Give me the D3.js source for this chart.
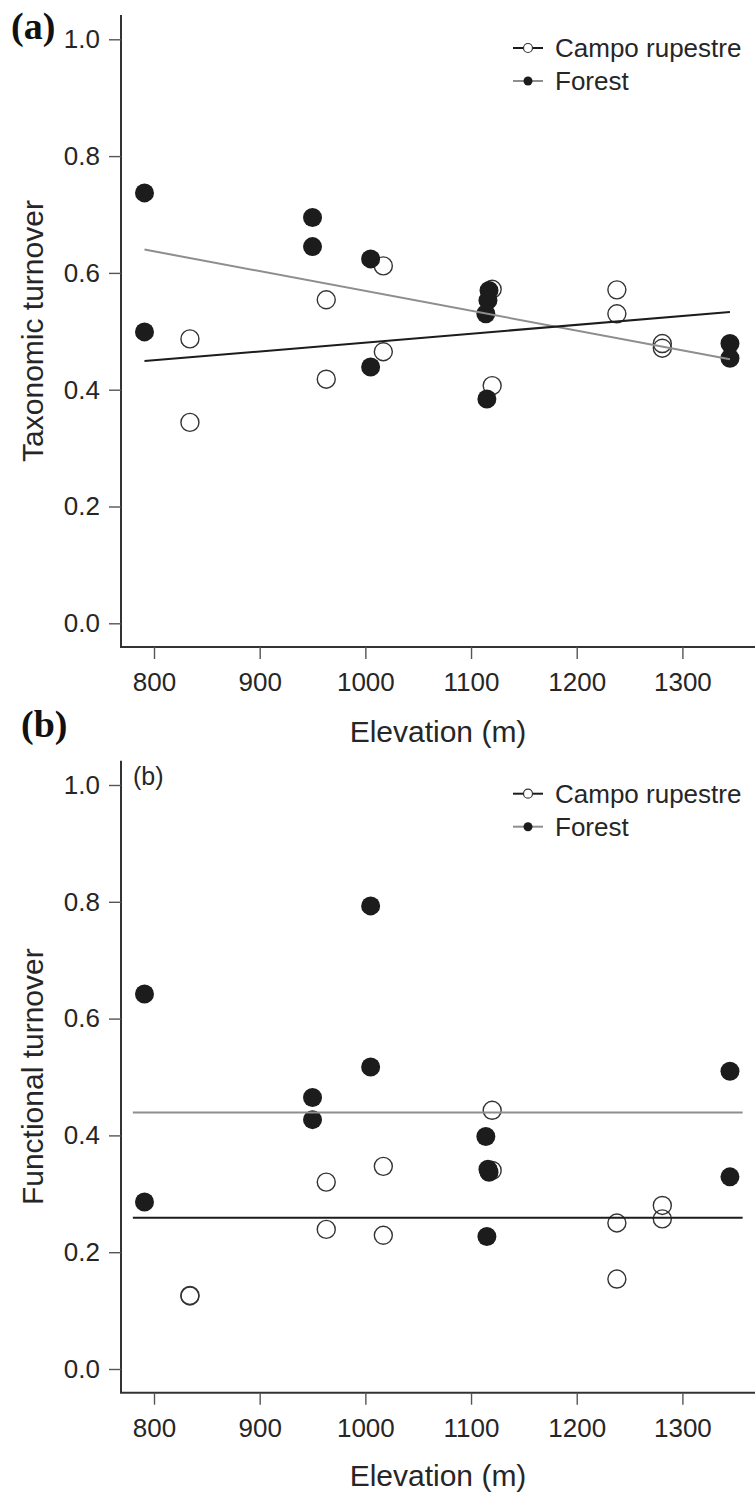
<!DOCTYPE html>
<html>
<head>
<meta charset="utf-8">
<script src="https://cdn.jsdelivr.net/npm/d3@7"></script>
<style>
  body { margin: 0; background: #fff; }
</style>
</head>
<body>
<div id="chart"></div>
<script>
var width = 755,
    height = 1492;

// data
var xTicks = [800, 900, 1000, 1100, 1200, 1300];
var yTicks = [0, 0.2, 0.4, 0.6, 0.8, 1.0];
var seriesNames = ["Campo rupestre", "Forest"];

var campoElev = [834, 834, 963, 963, 1017, 1017, 1120, 1120, 1238, 1238, 1281, 1281];
var campoTax  = [0.487, 0.344, 0.554, 0.418, 0.612, 0.465, 0.572, 0.407, 0.571, 0.530, 0.479, 0.471];
var campoFun  = [0.125, 0.126, 0.320, 0.239, 0.347, 0.229, 0.443, 0.340, 0.250, 0.154, 0.280, 0.257];

var forestElev = [791, 791, 950, 950, 1005, 1005, 1117, 1116, 1114, 1115, 1345, 1345];
var forestTax  = [0.737, 0.499, 0.695, 0.645, 0.624, 0.439, 0.570, 0.553, 0.530, 0.384, 0.479, 0.454];
var forestFun  = [0.642, 0.286, 0.465, 0.427, 0.793, 0.517, 0.337, 0.342, 0.398, 0.227, 0.510, 0.329];

// fitted lines [x0, y0, x1, y1]
var campoTaxFit  = [791, 0.449, 1345, 0.533];
var forestTaxFit = [791, 0.640, 1345, 0.452];
var campoFunFit  = [780, 0.259, 1357, 0.259];
var forestFunFit = [780, 0.439, 1357, 0.439];

var sans = "'Liberation Sans', Arial, Helvetica, sans-serif";
var serif = "'Liberation Serif', 'Times New Roman', serif";

var svg = d3.select('#chart').append('svg')
    .attr('width', width)
    .attr('height', height)
    .style('font-family', sans);

var x = d3.scaleLinear().domain([800, 1300]).range([154, 682.4]);

function panel(offset, yTitle, campoY, forestY, campoFit, forestFit, inner, titleY) {
    var g = svg.append('g').attr("transform", "translate(0," + offset + ")");
    var y = d3.scaleLinear().domain([0, 1]).range([623.3, 39.3]);

    // axis lines
    g.append("line").attr("x1", 121).attr("x2", 121).attr("y1", 15).attr("y2", 647)
        .attr("stroke", "#333").attr("stroke-width", 2);
    g.append("line").attr("x1", 120).attr("x2", 755).attr("y1", 647).attr("y2", 647)
        .attr("stroke", "#333").attr("stroke-width", 2);

    var ax = g.append('g').attr("transform", "translate(0,647)")
        .call(d3.axisBottom(x).tickValues(xTicks).tickSize(12).tickPadding(14)
            .tickFormat(d3.format("d")));
    var ay = g.append('g').attr("transform", "translate(121,0)")
        .call(d3.axisLeft(y).tickValues(yTicks).tickSize(12).tickPadding(9)
            .tickFormat(d3.format(".1f")));
    [ax, ay].forEach(function(a) {
        a.select(".domain").remove();
        a.selectAll(".tick line").attr("stroke", "#555").attr("stroke-width", 1.4);
        a.selectAll(".tick text").attr("font-size", 26)
            .attr("font-family", sans).attr("fill", "#262626");
    });

    // titles
    g.append("text").attr("x", 438).attr("y", titleY).attr("text-anchor", "middle")
        .attr("font-size", 30).attr("fill", "#262626").text("Elevation (m)");
    g.append("text").attr("transform", "translate(43,331) rotate(-90)")
        .attr("text-anchor", "middle").attr("font-size", 30).attr("fill", "#262626")
        .text(yTitle);

    // points: open first, filled on top
    g.selectAll(".campo").data(campoElev).enter().append("circle")
        .attr("class", "campo")
        .attr("cx", d => x(d))
        .attr("cy", (d, i) => y(campoY[i]))
        .attr("r", 9)
        .attr("fill", "none")
        .attr("stroke", "#333")
        .attr("stroke-width", 1.4);
    g.selectAll(".forest").data(forestElev).enter().append("circle")
        .attr("class", "forest")
        .attr("cx", d => x(d))
        .attr("cy", (d, i) => y(forestY[i]))
        .attr("r", 9.5)
        .attr("fill", "#1c1c1c");

    // fitted lines
    g.append("line")
        .attr("x1", x(forestFit[0])).attr("y1", y(forestFit[1]))
        .attr("x2", x(forestFit[2])).attr("y2", y(forestFit[3]))
        .attr("stroke", "#8e8e8e").attr("stroke-width", 2);
    g.append("line")
        .attr("x1", x(campoFit[0])).attr("y1", y(campoFit[1]))
        .attr("x2", x(campoFit[2])).attr("y2", y(campoFit[3]))
        .attr("stroke", "#1c1c1c").attr("stroke-width", 2);

    // legend
    var legend = g.append('g').attr("transform", "translate(513,48)");
    seriesNames.forEach(function(name, i) {
        var row = legend.append('g').attr("transform", "translate(0," + (i * 33) + ")");
        row.append("line").attr("x1", 0).attr("x2", 30).attr("y1", 0).attr("y2", 0)
            .attr("stroke", i ? "#8e8e8e" : "#1c1c1c").attr("stroke-width", 2);
        row.append("circle").attr("cx", 15).attr("cy", 0).attr("r", 4.5)
            .attr("fill", i ? "#1c1c1c" : "#fff")
            .attr("stroke", i ? "none" : "#333").attr("stroke-width", 1.2);
        row.append("text").attr("x", 42).attr("y", 9).attr("font-size", 26)
            .attr("fill", "#262626").text(name);
    });

    if (inner) {
        g.append("text").attr("x", 133).attr("y", 39).attr("font-size", 25)
            .attr("fill", "#262626").text(inner);
    }
}

panel(0, "Taxonomic turnover", campoTax, forestTax, campoTaxFit, forestTaxFit, null, 742);
panel(745.7, "Functional turnover", campoFun, forestFun, campoFunFit, forestFunFit, "(b)", 740);

// panel letters
svg.append("text").attr("x", 11).attr("y", 39).text("(a)")
    .style("font-family", serif).attr("font-weight", "bold").attr("font-size", 38).attr("fill", "#111");
svg.append("text").attr("x", 21).attr("y", 737).text("(b)")
    .style("font-family", serif).attr("font-weight", "bold").attr("font-size", 38).attr("fill", "#111");
</script>
</body>
</html>
